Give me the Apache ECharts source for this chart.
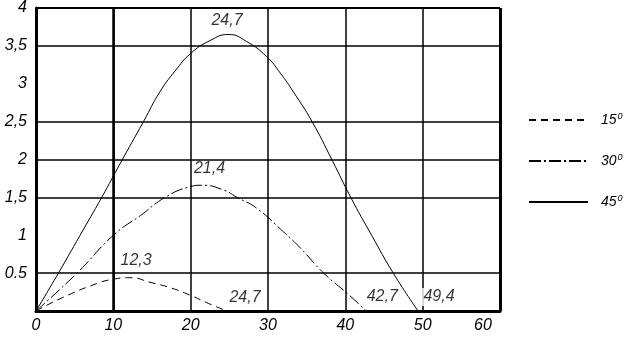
<!DOCTYPE html>
<html><head><meta charset="utf-8">
<script src="https://cdn.jsdelivr.net/npm/echarts@6/dist/echarts.min.js"></script>
<style>html,body{margin:0;padding:0;background:#fff}#c{width:631px;height:339px}</style>
</head><body><div id="c"></div>
<script>
// ---- data ----
const seriesNames = ['15', '30', '45'];
const x15 = [0, 3.5, 7.8, 10, 12.3, 14.7, 17.3, 19.9, 22.3, 24.7];
const y15 = [0, 0.18, 0.36, 0.42, 0.44, 0.38, 0.31, 0.21, 0.10, 0];
const x30 = [0, 5.3, 10, 13.5, 16.7, 19.9, 21.4, 24.2, 26, 28.5, 32, 34.2, 37.2, 40.5, 42.7];
const y30 = [0, 0.5, 1.0, 1.26, 1.5, 1.64, 1.66, 1.60, 1.5, 1.36, 1.045, 0.83, 0.5, 0.21, 0];
const x45 = [0, 2.9, 5.7, 8.5, 10.9, 13.9, 16.0, 18, 20, 22.5, 24.9, 27.2, 29.8, 31.6, 33.3, 35.7, 38.3, 40.7, 43.4, 46.2, 49.4];
const y45 = [0, 0.5, 1.0, 1.5, 1.95, 2.5, 2.89, 3.17, 3.40, 3.57, 3.65, 3.56, 3.36, 3.14, 2.89, 2.5, 1.99, 1.5, 1.0, 0.5, 0];
const peakX = [12.3, 21.4, 24.7];
const peakY = [0.44, 1.66, 3.65];
const peakLabels = ['12,3', '21,4', '24,7'];
const rangeX = [24.7, 42.7, 49.4];
const rangeLabels = ['24,7', '42,7', '49,4'];
const xTickLabels = ['0', '10', '20', '30', '40', '50', '60'];
const yTickValues = [0.5, 1, 1.5, 2, 2.5, 3, 3.5, 4];
const yTickLabels = ['0.5', '1', '1,5', '2', '2,5', '3', '3,5', '4'];
const hGridValues = [0.5, 1.5, 2, 2.5, 3.5, 4];

// ---- layout / style ----
const FONT = 'Liberation Sans';
const peakOffsets = [[5, -17], [8, -17], [0, -14]];
const rangeOffsets = [[18, -13], [16, -14], [21, -14]];
const lineTypes = [[7, 5], [12, 3, 2, 3], 'solid'];

const zip = (a, b) => a.map((v, i) => [v, b[i]]);
const curves = [zip(x15, y15), zip(x30, y30), zip(x45, y45)];

const labelData = [];
peakX.forEach((x, i) => labelData.push({
  value: [x, peakY[i]], name: peakLabels[i],
  label: { offset: peakOffsets[i] }
}));
rangeX.forEach((x, i) => labelData.push({
  value: [x, 0], name: rangeLabels[i],
  label: { offset: rangeOffsets[i], backgroundColor: '#fff', padding: [1, 2] }
}));

const txt = { fontFamily: FONT, fontStyle: 'italic', fontSize: 16, color: '#000' };

const gridMarks = hGridValues.map(v => ({ yAxis: v, lineStyle: { width: v === 4 ? 2 : 1.5 } }))
  .concat([{ xAxis: 10, lineStyle: { width: 2.5 } }, { xAxis: 60, lineStyle: { width: 3 } }]);

const series = seriesNames.map((n, i) => ({
  name: n, type: 'line', data: curves[i], symbol: 'none', showSymbol: false,
  smooth: 0.5,
  lineStyle: { color: '#000', width: 1, type: lineTypes[i] },
  itemStyle: { color: '#000' }, z: 3
}));
series.push({
  name: 'grid', type: 'line', data: [], symbol: 'none', z: 1,
  markLine: {
    silent: true, symbol: ['none', 'none'], label: { show: false },
    lineStyle: { color: '#000', type: 'solid' }, data: gridMarks
  }
});
series.push({
  name: 'labels', type: 'scatter', data: labelData, symbolSize: 0, z: 10,
  label: { show: true, position: 'inside', formatter: p => p.name, ...txt }
});

const chart = echarts.init(document.getElementById('c'), null, { renderer: 'canvas' });
chart.setOption({
  animation: false,
  backgroundColor: '#fff',
  grid: { left: 36, top: 1, width: 464, height: 310 },
  legend: {
    data: seriesNames, orient: 'vertical', left: 523, top: 107,
    itemWidth: 59, itemHeight: 14, itemGap: 26,
    itemStyle: { opacity: 0 },
    lineStyle: { opacity: 1 },
    formatter: n => '{a|' + n + '}{s|0}',
    textStyle: {
      rich: {
        a: { ...txt, fontSize: 14, padding: [0, 0, 0, 8] },
        s: { ...txt, fontSize: 9, verticalAlign: 'top', padding: [0, 0, 7, 1] }
      }
    }
  },
  xAxis: {
    type: 'value', min: 0, max: 60, interval: 10,
    axisLine: { show: true, onZero: false, lineStyle: { color: '#000', width: 3 } },
    axisTick: { show: false },
    splitLine: { show: true, lineStyle: { color: '#000', width: 1.5 } },
    axisLabel: {
      ...txt, margin: 7,
      formatter: v => {
        const s = xTickLabels[Math.round(v / 10)];
        return v === 60 ? '{r|' + s + '}' : s;
      },
      rich: { r: { ...txt, padding: [0, 34, 0, 0] } }
    }
  },
  yAxis: {
    type: 'value', min: 0, max: 4, interval: 0.5,
    axisLine: { show: true, lineStyle: { color: '#000', width: 3 } },
    axisTick: { show: false },
    splitLine: { show: false },
    axisLabel: {
      ...txt, margin: 9,
      formatter: v => {
        const i = yTickValues.findIndex(t => Math.abs(t - v) < 1e-6);
        return i < 0 ? '' : yTickLabels[i];
      }
    }
  },
  series
});
</script></body></html>
